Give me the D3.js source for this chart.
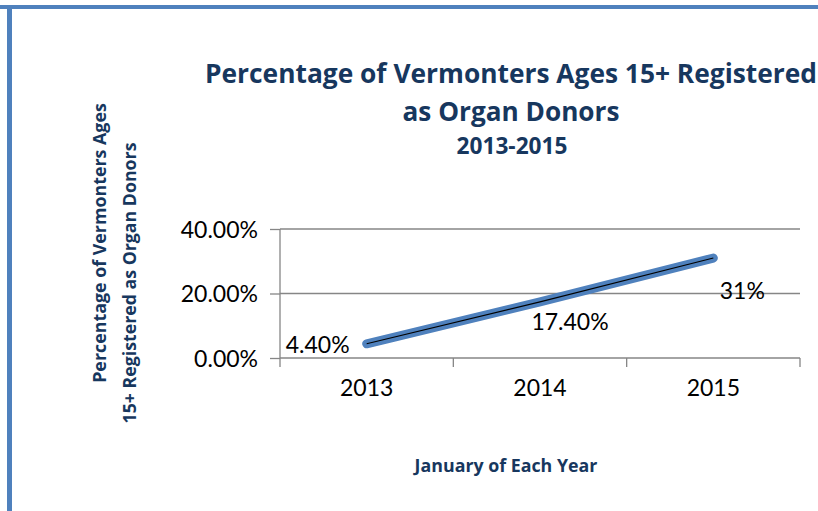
<!DOCTYPE html>
<html>
<head>
<meta charset="utf-8">
<script src="https://cdn.jsdelivr.net/npm/d3@7"></script>
<style>
  html, body { margin: 0; padding: 0; background: #fff; }
  svg { display: block; }
  text { font-family: Lato, "Open Sans", sans-serif; }
  .ttl { font-family: "Open Sans", sans-serif; font-weight: bold; }
</style>
</head>
<body>
<svg id="canvas"></svg>
<script>
const width = 818;
const height = 511;

// data
const years = ["2013", "2014", "2015"];
const values = [0.044, 0.174, 0.31];
const valueLabels = ["4.40%", "17.40%", "31%"];
const yTicks = [0, 0.2, 0.4];

const titleLines = ["Percentage of Vermonters Ages 15+ Registered", "as Organ Donors"];
const subTitle = "2013-2015";
const yTitleLines = ["Percentage of Vermonters Ages", "15+ Registered as Organ Donors"];
const xTitle = "January of Each Year";

const navy = "#17375E";
const lineBlue = "#4F81BD";
const gridGrey = "#868686";

let svg = d3.select("#canvas").attr('width', width).attr('height', height);

// size a text so it spans the width it has in the source picture
const fitWidth = (sel, target) => {
    sel.attr('font-size', 20);
    let w = sel.node().getComputedTextLength();
    sel.attr('font-size', 20 * target / w);
}

// frame (top and left edges show)
svg.append('rect').attr('x', 0).attr('y', 5).attr('width', width).attr('height', 4).attr('fill', lineBlue);
svg.append('rect').attr('x', 7).attr('y', 5).attr('width', 5).attr('height', height).attr('fill', lineBlue);

const x = d3.scaleBand().domain(years).range([280, 800]);
const y = d3.scaleLinear().domain([0, 0.4]).range([358, 229]);

// gridlines
svg.append('g')
    .selectAll('line')
    .data(yTicks)
    .enter()
    .append('line')
    .attr('x1', x.range()[0]).attr('x2', x.range()[1])
    .attr('y1', d => y(d)).attr('y2', d => y(d))
    .attr('stroke', gridGrey).attr('stroke-width', 1.3);

// y axis
let yAxis = svg.append('g')
    .attr('transform', `translate(${x.range()[0]},0)`)
    .call(d3.axisLeft(y).tickValues(yTicks).tickFormat(d3.format('.2%')).tickSize(10).tickPadding(12));
yAxis.select('.domain').remove();
yAxis.selectAll('line').attr('stroke', gridGrey).attr('stroke-width', 1.3);
yAxis.selectAll('text').attr('font-size', 23).attr('fill', '#000').attr('font-family', 'Lato').attr('dy', '0.36em');

svg.append('line')
    .attr('x1', x.range()[0]).attr('x2', x.range()[0])
    .attr('y1', y(0.4)).attr('y2', y(0) + 9)
    .attr('stroke', gridGrey).attr('stroke-width', 1.3);

// x axis: labels at category centres, ticks between categories
let xAxis = svg.append('g')
    .attr('transform', `translate(0,${y(0)})`)
    .call(d3.axisBottom(x).tickSize(0).tickPadding(22));
xAxis.select('.domain').remove();
xAxis.selectAll('text').attr('font-size', 23).attr('fill', '#000').attr('font-family', 'Lato');

const bounds = years.map(d => x(d)).concat([x.range()[1]]);
svg.append('g')
    .selectAll('line')
    .data(bounds.slice(1))
    .enter()
    .append('line')
    .attr('x1', d => d).attr('x2', d => d)
    .attr('y1', y(0)).attr('y2', y(0) + 9)
    .attr('stroke', gridGrey).attr('stroke-width', 1.3);

// the series line
const pts = years.map((d, i) => [x(d) + x.bandwidth() / 2, y(values[i])]);
const line = d3.line();
svg.append('path').attr('d', line(pts))
    .attr('fill', 'none').attr('stroke', lineBlue).attr('stroke-width', 9).attr('stroke-linecap', 'round');
svg.append('path').attr('d', line(pts))
    .attr('fill', 'none').attr('stroke', '#000').attr('stroke-width', 1.1);

// data labels (placed as in the source chart)
const labelNudge = [[-17, 9, 'end'], [30, 28, 'middle'], [29, 41, 'middle']];
svg.append('g')
    .selectAll('text')
    .data(valueLabels)
    .enter()
    .append('text')
    .attr('x', (d, i) => pts[i][0] + labelNudge[i][0])
    .attr('y', (d, i) => pts[i][1] + labelNudge[i][1])
    .attr('text-anchor', (d, i) => labelNudge[i][2])
    .attr('font-size', 23)
    .attr('fill', '#000')
    .text(d => d);

// titles
const titleWidths = [612, 217];
svg.append('g')
    .selectAll('text')
    .data(titleLines)
    .enter()
    .append('text')
    .attr('class', 'ttl')
    .attr('x', 511)
    .attr('y', (d, i) => 83 + i * 38)
    .attr('text-anchor', 'middle')
    .attr('fill', navy)
    .text(d => d)
    .each(function (d, i) { fitWidth(d3.select(this), titleWidths[i]); });

svg.append('text')
    .attr('class', 'ttl')
    .attr('x', 512).attr('y', 154)
    .attr('text-anchor', 'middle')
    .attr('fill', navy)
    .text(subTitle)
    .call(s => fitWidth(s, 111));

const yTitleCentres = [[106, 243], [136, 283]];
svg.append('g')
    .selectAll('text')
    .data(yTitleLines)
    .enter()
    .append('text')
    .attr('class', 'ttl')
    .attr('transform', (d, i) => `translate(${yTitleCentres[i][0]},${yTitleCentres[i][1]}) rotate(-90)`)
    .attr('text-anchor', 'middle')
    .attr('fill', navy)
    .text(d => d)
    .each(function (d, i) { fitWidth(d3.select(this), [280, 281][i]); });

svg.append('text')
    .attr('class', 'ttl')
    .attr('x', 506).attr('y', 472)
    .attr('text-anchor', 'middle')
    .attr('fill', navy)
    .text(xTitle)
    .call(s => fitWidth(s, 183));
</script>
</body>
</html>
